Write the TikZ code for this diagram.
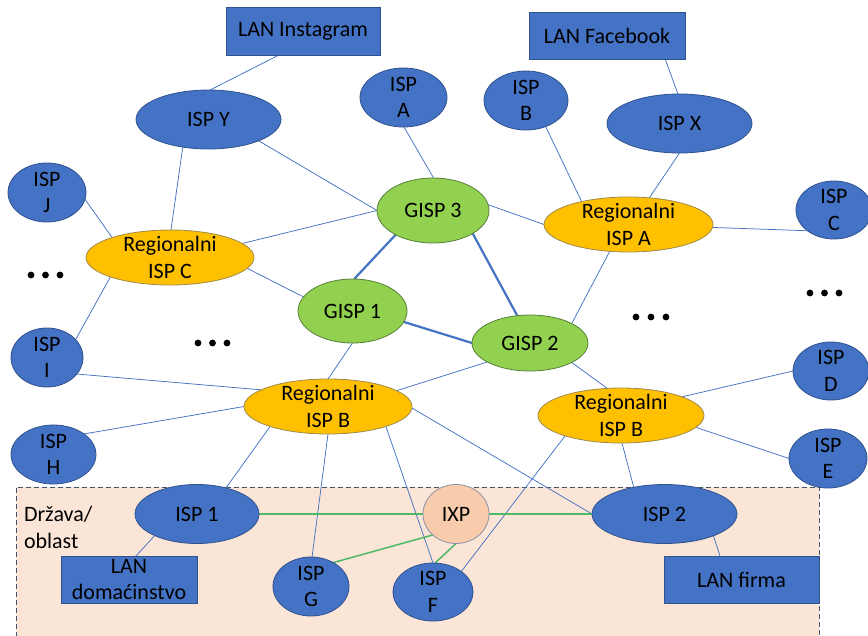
\documentclass[tikz,border=0pt]{standalone}
\usepackage{fontspec}
\setmainfont{Carlito}
\usetikzlibrary{shapes.geometric}

\definecolor{ispblue}{HTML}{4472C4}
\definecolor{ispedge}{HTML}{2F528F}
\definecolor{regfill}{HTML}{FFC000}
\definecolor{regedge}{HTML}{A08A4A}
\definecolor{gfill}{HTML}{92D050}
\definecolor{gedge}{HTML}{56803A}
\definecolor{ixpfill}{HTML}{F8CBAD}
\definecolor{ixpedge}{HTML}{8A93A8}
\definecolor{zonefill}{HTML}{FBE5D6}
\definecolor{zoneedge}{HTML}{44546A}
\definecolor{linkblue}{HTML}{4472C4}
\definecolor{peergreen}{HTML}{4FB966}

\pgfdeclarelayer{zonelayer}
\pgfdeclarelayer{wires}
\pgfsetlayers{zonelayer,wires,main}

\tikzset{
  base/.style={font=\fontsize{22}{26.5}\selectfont, inner sep=0pt, outer sep=0pt, line width=0.8pt},
  txt/.style={font=\fontsize{22}{26.5}\selectfont, align=center, inner sep=0pt},
  isp/.style={base, ellipse, draw=ispedge, fill=ispblue},
  reg/.style={base, ellipse, draw=regedge, fill=regfill},
  gisp/.style={base, ellipse, draw=gedge, fill=gfill},
  ixpnode/.style={base, ellipse, draw=ixpedge, fill=ixpfill},
  lan/.style={base, rectangle, draw=ispedge, fill=ispblue, align=center},
  conn/.style={draw=linkblue, line width=0.75pt},
  core/.style={draw=linkblue, line width=2.2pt},
  peerlink/.style={draw=peergreen, line width=1.5pt},
}

\begin{document}
\begin{tikzpicture}[x=1pt, y=-1pt]
\useasboundingbox (0,0) rectangle (868,635);

% country / region zone
\begin{pgfonlayer}{zonelayer}
  \fill[zonefill] (16,487) rectangle (819,645);
  \draw[zoneedge, line width=0.9pt, dash pattern=on 5pt off 3pt]
    (16,645) -- (16,487) -- (819,487) -- (819,645);
\end{pgfonlayer}
\node[base, align=left, anchor=west, font=\fontsize{22}{27}\selectfont] (zone) at (24,527) {Država/\\oblast};

% LANs
\node[lan, minimum width=154, minimum height=48] (lanI) at (303,31) {LAN Instagram};
\node[lan, minimum width=156, minimum height=47] (lanF) at (607,35.5) {LAN Facebook};
\node[lan, minimum width=136, minimum height=47] (lanD) at (129,579.5) {LAN\\domaćinstvo};
\node[lan, minimum width=155, minimum height=47] (lanFi) at (741.5,579.5) {LAN firma};

% access ISPs
\node[isp, minimum width=145, minimum height=59, label={[txt]center:ISP Y}] (ispY) at (208.5,119.5) {};
\node[isp, minimum width=87, minimum height=59, label={[txt]center:ISP\\A}] (ispA) at (403.5,97.5) {};
\node[isp, minimum width=84, minimum height=59, label={[txt]center:ISP\\B}] (ispB) at (526,100.5) {};
\node[isp, minimum width=145, minimum height=59, label={[txt]center:ISP X}] (ispX) at (679.5,123.5) {};
\node[isp, minimum width=78, minimum height=59, label={[txt]center:ISP\\J}] (ispJ) at (47,192.5) {};
\node[isp, minimum width=76, minimum height=58, label={[txt]center:ISP\\C}] (ispC) at (834,210) {};
\node[isp, minimum width=72, minimum height=59, label={[txt]center:ISP\\I}] (ispI) at (47,357.5) {};
\node[isp, minimum width=76, minimum height=58, label={[txt]center:ISP\\D}] (ispD) at (831,371) {};
\node[isp, minimum width=85, minimum height=59, label={[txt]center:ISP\\H}] (ispH) at (53.5,454.5) {};
\node[isp, minimum width=78, minimum height=59, label={[txt]center:ISP\\E}] (ispE) at (828,458.5) {};
\node[isp, minimum width=124, minimum height=59, label={[txt]center:ISP 1}] (isp1) at (197,514) {};
\node[isp, minimum width=145, minimum height=59, label={[txt]center:ISP 2}] (isp2) at (664.5,514) {};
\node[isp, minimum width=76, minimum height=59, label={[txt]center:ISP\\G}] (ispG) at (311,586.5) {};
\node[isp, minimum width=80, minimum height=58, label={[txt]center:ISP\\F}] (ispF) at (433,592) {};

% regional ISPs
\node[reg, minimum width=168, minimum height=55, label={[txt]center:Regionalni\\ISP C}] (regC) at (170,257.5) {};
\node[reg, minimum width=169, minimum height=55, label={[txt]center:Regionalni\\ISP A}] (regA) at (628.5,224.5) {};
\node[reg, minimum width=168, minimum height=55, label={[txt]center:Regionalni\\ISP B}] (regBl) at (328,406.5) {};
\node[reg, minimum width=166, minimum height=55, label={[txt]center:Regionalni\\ISP B}] (regBr) at (621,415.5) {};

% global ISPs
\node[gisp, minimum width=112, minimum height=65, label={[txt]center:GISP 3}] (gisp3) at (433,210.5) {};
\node[gisp, minimum width=109, minimum height=64, label={[txt]center:GISP 1}] (gisp1) at (352.5,311) {};
\node[gisp, minimum width=116, minimum height=56, label={[txt]center:GISP 2}] (gisp2) at (530,343) {};

% exchange point
\node[ixpnode, minimum width=66, minimum height=59, label={[txt]center:IXP}] (ixp) at (456,514) {};

% ellipsis marks
\foreach \cx/\cy in {31/275, 45.5/275, 60/275, 198/343, 212.5/343, 227/343,
                     636/317, 651/317, 666/317, 810/293, 824.5/293, 839/293}
  \fill (\cx,\cy) circle (3.4);

\begin{pgfonlayer}{wires}
  \draw[conn] (lanI.-135) -- (ispY.87);
  \draw[conn] (lanF.-22) -- (ispX.93);
  \draw[conn] (ispY.-133) -- (regC.88);
  \draw[conn] (ispY.-23) -- (gisp3.180);
  \draw[conn] (ispA.-89) -- (gisp3.89);
  \draw[conn] (ispB.-53) -- (regA.154);
  \draw[conn] (ispX.-90) -- (regA.52);
  \draw[conn] (gisp3.6) -- (regA.180);
  \draw[conn] (regC.11) -- (gisp3.180);
  \draw[conn] (regA.-2) -- (ispC.-142);
  \draw[conn] (regA.-125) -- (gisp2.25);
  \draw[conn] (ispJ.-10) -- (regC.161);
  \draw[conn] (regC.-8) -- (gisp1.164);
  \draw[conn] (regC.-162) -- (ispI.32);
  \draw[core] (gisp3.-147) -- (gisp1.87);
  \draw[core] (gisp3.-30) -- (gisp2.115);
  \draw[core] (gisp1.-12) -- (gisp2.180);
  \draw[conn] (gisp1.-90) -- (regBl.90);
  \draw[conn] (gisp2.-156) -- (regBl.13);
  \draw[conn] (gisp2.-25) -- (regBr.117);
  \draw[conn] (ispI.-29) -- (regBl.166);
  \draw[conn] (ispH.34) -- (regBl.180);
  \draw[conn] (regBl.-161) -- (isp1.42);
  \draw[conn] (regBl.-90) -- (ispG.88);
  \draw[conn] (regBl.-19) -- (ispF.90);
  \draw[conn] (regBl.-1) -- (isp2.180);
  \draw[conn] (regBr.17) -- (ispD.180);
  \draw[conn] (regBr.-9) -- (ispE.180);
  \draw[conn] (regBr.-160) -- (ispF.36);
  \draw[conn] (regBr.-88) -- (isp2.139);
  \draw[conn] (isp1.-153) -- ([xshift=7pt]lanD.north);
  \draw[conn] (isp2.-24) -- ([xshift=-21.5pt]lanFi.north);
  \draw[peerlink] (isp1.east) -- (ixp.west);
  \draw[peerlink] (ixp.east) -- (isp2.west);
  \draw[peerlink] (ixp.-138) -- (ispG.47);
  \draw[peerlink] (ixp.-90) -- (ispF.86);
\end{pgfonlayer}
\end{tikzpicture}
\end{document}
